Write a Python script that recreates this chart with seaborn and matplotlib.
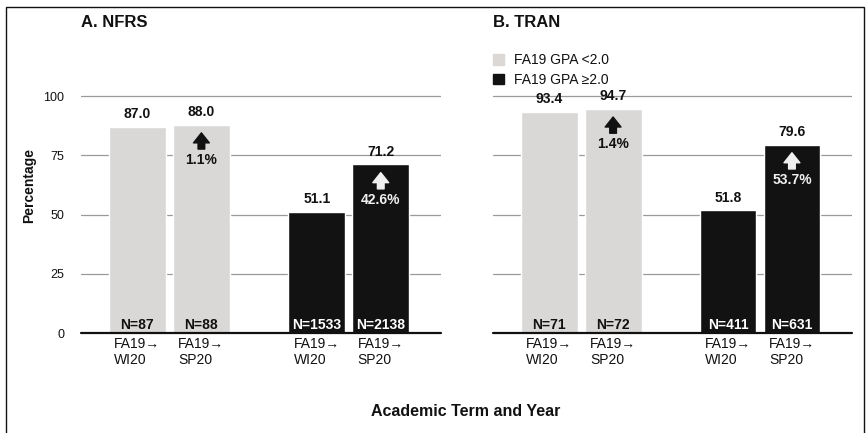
import numpy as np
import pandas as pd
import seaborn as sns
import matplotlib.pyplot as plt
from matplotlib.patches import Rectangle, Patch

# data
terms = ['FA19→\nWI20', 'FA19→\nSP20', 'FA19→\nWI20', 'FA19→\nSP20']
gpa_groups = ['FA19 GPA <2.0', 'FA19 GPA ≥2.0']
bar_groups = [gpa_groups[0], gpa_groups[0], gpa_groups[1], gpa_groups[1]]

nfrs_pct = [87.0, 88.0, 51.1, 71.2]
nfrs_n = [87, 88, 1533, 2138]
nfrs_change = [1.1, 42.6]

tran_pct = [93.4, 94.7, 51.8, 79.6]
tran_n = [71, 72, 411, 631]
tran_change = [1.4, 53.7]

panel_titles = ['A. NFRS', 'B. TRAN']

light = '#dbd8d6'
dark = '#121212'
ink = '#111111'

sns.set_theme(style='white')
plt.rcParams['font.family'] = ['Liberation Sans', 'DejaVu Sans']
plt.rcParams['text.color'] = ink
plt.rcParams['xtick.color'] = ink
plt.rcParams['ytick.color'] = ink
plt.rcParams['axes.labelcolor'] = ink

# two bars per group, a wider gap between the groups
group_gap = 1.8
pos = [0, 1, 1 + group_gap, 2 + group_gap]

fig = plt.figure(figsize=(8.66, 4.33), dpi=100)
axes = [fig.add_axes([0.0935, 0.2309, 0.4157, 0.6836]),
        fig.add_axes([0.5693, 0.2309, 0.4145, 0.6836])]


def draw_panel(ax, pct, n, change, title, show_y):
    df = pd.DataFrame({'pos': pos, 'pct': pct, 'gpa': bar_groups})
    sns.barplot(data=df, x='pos', y='pct', hue='gpa', hue_order=gpa_groups,
                palette=[light, dark], native_scale=True, dodge=False,
                width=0.89, errorbar=None, legend=False, ax=ax, zorder=2)
    ax.set_xlim(-0.88, 4.74)
    ax.set_ylim(0, 125)
    ax.set_yticks([0, 25, 50, 75, 100])
    for y in [25, 50, 75, 100]:
        ax.axhline(y, color='#9a9a9a', lw=0.9, zorder=1)
    ax.axhline(0, color=ink, lw=1.6, zorder=3, clip_on=False)
    for s in ax.spines.values():
        s.set_visible(False)
    ax.set_xticks(pos)
    ax.set_xticklabels(terms, fontsize=10, multialignment='left', linespacing=1.2)
    ax.tick_params(axis='x', length=0, pad=3)
    ax.tick_params(axis='y', length=0, pad=12, labelsize=9)
    if show_y:
        ax.set_ylabel('Percentage', fontsize=10, fontweight='bold', labelpad=5)
    else:
        ax.set_yticklabels([])
        ax.set_ylabel('')
    ax.set_xlabel('')
    ax.text(0, 1.05, title, transform=ax.transAxes, fontsize=12,
            fontweight='bold', va='center', ha='left')

    for i, (x, v) in enumerate(zip(pos, pct)):
        ax.annotate(f'{v:.1f}', (x, v), xytext=(0, 4), textcoords='offset points',
                    ha='center', va='bottom', fontsize=10, fontweight='bold')
        col = 'white' if i >= 2 else ink
        ax.annotate(f'N={n[i]}', (x, 0.6), ha='center', va='bottom',
                    fontsize=10, fontweight='bold', color=col, zorder=4)

    # change arrows on the second bar of each group
    for k, i in enumerate([1, 3]):
        x, top = pos[i], pct[i]
        col = ink if i == 1 else '#f0f0f0'
        ax.annotate('', xy=(x, top - 2.3), xytext=(x, top - 11.5),
                    arrowprops=dict(arrowstyle='simple,head_length=0.6,head_width=0.95,tail_width=0.4',
                                    fc=col, ec=col), zorder=4)
        ax.text(x, top - 15, f'{change[k]}%', ha='center', va='center',
                fontsize=10, fontweight='bold', color=col, zorder=4)


draw_panel(axes[0], nfrs_pct, nfrs_n, nfrs_change, panel_titles[0], True)
draw_panel(axes[1], tran_pct, tran_n, tran_change, panel_titles[1], False)

handles = [Patch(color=light), Patch(color=dark)]
axes[1].legend(handles, gpa_groups, loc='upper left', bbox_to_anchor=(0.0, 0.945),
               frameon=False, fontsize=10, handlelength=0.8, handleheight=0.8,
               handletextpad=0.7, labelspacing=0.4, borderpad=0, borderaxespad=0)

fig.text(0.538, 0.05, 'Academic Term and Year', ha='center', va='center',
         fontsize=11.5, fontweight='bold')

fig.patches.append(Rectangle((0.007, -0.02), 0.991, 1.004, transform=fig.transFigure,
                             fill=False, ec=ink, lw=1.0))

fig.savefig('out.png', dpi=100)
